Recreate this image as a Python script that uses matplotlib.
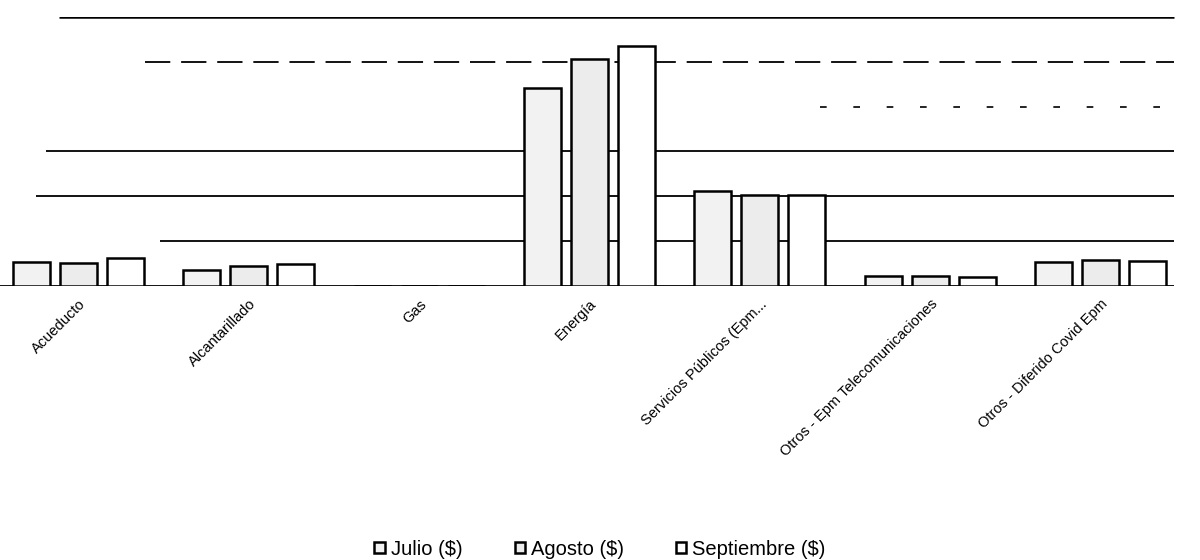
import numpy as np
import matplotlib.pyplot as plt

plt.rcParams['font.family'] = ['Liberation Sans', 'DejaVu Sans']

categorias = ['Acueducto', 'Alcantarillado', 'Gas', 'Energía',
              'Servicios Públicos (Epm...', 'Otros - Epm Telecomunicaciones',
              'Otros - Diferido Covid Epm']
series = ['Julio ($)', 'Agosto ($)', 'Septiembre ($)']
julio = [10700, 7000, 0, 88200, 42200, 4400, 10800]
agosto = [10200, 8800, 0, 101400, 40400, 4400, 11600]
septiembre = [12400, 9800, 0, 107000, 40400, 3800, 11000]
valores = [julio, agosto, septiembre]
rellenos = ['#f2f2f2', '#ececec', '#ffffff']

fig = plt.figure(figsize=(12, 5.6), dpi=100)
# el area de trazado empieza un poco antes del borde izquierdo (escaneo recortado)
ax = fig.add_axes([-7 / 1200, 1 - 286 / 560, 1193 / 1200, 269 / 560])

x = np.arange(len(categorias))
ancho = 0.217
paso = 0.276
for i, (nombre, vals) in enumerate(zip(series, valores)):
    ax.bar(x + (i - 1) * paso, vals, width=ancho, color=rellenos[i],
           edgecolor='black', linewidth=1.8, label=nombre, zorder=3)

ax.set_xlim(-0.5, len(categorias) - 0.5)
ax.set_ylim(0, 120000)

# lineas de division, con los tramos que sobrevivieron al fax
x_fin = 6.43
inicio = {20000: 0.48, 40000: -0.25, 60000: -0.19}
for nivel, x0 in inicio.items():
    ax.hlines(nivel, x0, x_fin, color='black', linewidth=1.3, zorder=1)
ax.hlines(120000, -0.11, x_fin, color='black', linewidth=1.8, zorder=1)
ax.hlines(100000, 0.39, x_fin, color='black', linewidth=1.3,
          linestyles=(0, (14, 6)), zorder=1)
ax.hlines(80000, 4.35, x_fin, color='black', linewidth=1.2,
          linestyles=(0, (4, 16)), zorder=1)
ax.hlines(0, -0.5, x_fin, color='black', linewidth=1.3, zorder=2)

ax.tick_params(axis='y', left=False, labelleft=False)
ax.tick_params(axis='x', length=0, pad=8)
ax.set_xticks(x)
ax.set_xticklabels(categorias, rotation=45, ha='right', va='top',
                   rotation_mode='anchor', fontsize=10.5)
for lado in ['left', 'right', 'top', 'bottom']:
    ax.spines[lado].set_visible(False)

fig.legend(loc='lower center', bbox_to_anchor=(0.5, -0.03), ncol=3,
           frameon=False, fontsize=14.5, handlelength=0.5, handleheight=0.5,
           handletextpad=0.3, columnspacing=2.6)

fig.savefig('out.png', dpi=100)
